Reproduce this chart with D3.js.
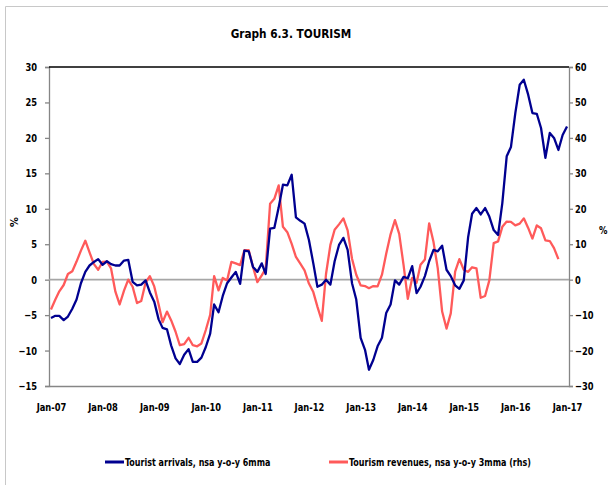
<!DOCTYPE html>
<html>
<head>
<meta charset="utf-8">
<script src="https://cdn.jsdelivr.net/npm/d3@7"></script>
<style>
  body { margin: 0; background: #fff; }
  text { font-family: "Liberation Sans Narrow", "DejaVu Sans Condensed", "Open Sans", sans-serif; font-weight: bold; fill: #000; }
</style>
</head>
<body>
<svg id="chart" width="608" height="485"></svg>
<script>
// monthly y-o-y, Jan-07 .. Jan-17
const arrivals = [
  -5.4, -5.1, -5.1, -5.7, -5.2, -4.1, -2.8, -0.5, 1.1, 2.0, 2.5, 2.9,
  2.1, 2.6, 2.2, 2.0, 2.0, 2.7, 2.8, -0.3, -0.8, -0.7, -0.1, -1.8,
  -3.1, -5.6, -6.8, -7.0, -9.3, -11.1, -11.9, -10.6, -9.8, -11.6, -11.6, -11.0,
  -9.5, -7.6, -3.5, -4.6, -2.3, -0.5, 0.3, 1.1, -0.6, 4.1, 4.0, 1.8,
  1.1, 2.3, 0.8, 7.2, 7.3, 10.2, 13.4, 13.3, 14.8, 8.8, 8.3, 7.9,
  5.6, 2.3, -1.0, -0.7, 0.0, -0.7, 2.6, 4.9, 5.9, 4.2, -0.5, -2.8,
  -8.2, -9.9, -12.7, -11.3, -9.4, -8.2, -4.7, -3.5, -0.1, -0.7, 0.4, 0.2,
  1.9, -1.9, -1.0, 0.5, 2.6, 4.2, 4.0, 4.8, 1.4, 0.5, -0.8, -1.3,
  -0.1, 6.0, 9.3, 10.1, 9.2, 10.1, 8.9, 7.0, 6.3, 10.8, 17.4, 18.7,
  23.5, 27.5, 28.2, 26.1, 23.5, 23.4, 21.4, 17.2, 20.7, 20.0, 18.3, 20.4,
  21.6
];

// Jan-07 .. Nov-16 (rhs)
const revenues = [
  -8.4, -5.6, -3.3, -1.5, 1.6, 2.4, 5.1, 8.2, 11.0, 7.7, 4.4, 2.8,
  5.0, 5.1, 3.2, -3.4, -7.0, -3.1, 0.0, -2.0, -6.6, -6.0, -0.8, 1.0,
  -1.9, -7.0, -12.0, -9.0, -11.5, -14.7, -18.5, -18.2, -16.4, -18.5, -18.8, -18.0,
  -14.2, -9.9, 1.0, -3.0, 0.5, -0.2, 5.0, 4.6, 4.1, 8.3, 8.3, 3.6,
  -0.7, 1.2, 3.1, 21.4, 22.8, 26.6, 14.9, 13.4, 10.1, 6.4, 4.5, 2.6,
  -1.1, -3.5, -7.6, -11.6, 1.6, 9.8, 14.1, 15.6, 17.3, 13.9, 5.9, 1.4,
  -1.6, -1.8, -2.4, -1.8, -1.9, 1.4, 7.3, 12.8, 16.8, 12.9, 4.1, -5.4,
  0.5, -0.9, 4.2, 5.7, 15.9, 10.6, 3.2, -9.0, -13.8, -9.5, 2.3, 5.8,
  2.8, 2.2, 3.5, 3.2, -5.1, -4.6, -0.2, 10.3, 10.8, 14.9, 16.4, 16.3,
  15.3, 15.8, 17.3, 14.6, 11.6, 15.3, 14.5, 11.1, 10.9, 8.9, 5.8
];

const yearTicks = ["Jan-07", "Jan-08", "Jan-09", "Jan-10", "Jan-11", "Jan-12",
  "Jan-13", "Jan-14", "Jan-15", "Jan-16", "Jan-17"];
const leftTicks = [-15, -10, -5, 0, 5, 10, 15, 20, 25, 30];
const rightTicks = [-30, -20, -10, 0, 10, 20, 30, 40, 50, 60];
const seriesNames = ["Tourist arrivals, nsa y-o-y 6mma", "Tourism revenues, nsa y-o-y 3mma (rhs)"];
const seriesColors = ["#000090", "#ff5a5a"];

const width = 608;
const height = 485;
const plot = { left: 49, right: 569, top: 67, bottom: 386 };

const svg = d3.select("#chart");
const parseTick = d3.timeParse("%b-%y");
const start = parseTick(yearTicks[0]);
const end = parseTick(yearTicks[yearTicks.length - 1]);
const monthOf = (d, i) => d3.timeMonth.offset(start, i);

// the original uses a narrow (Calibri-like) face; squeeze the fallback font
const condense = (sel, k) => sel.each(function () {
  const w = this.getComputedTextLength();
  d3.select(this).attr("textLength", w * k).attr("lengthAdjust", "spacingAndGlyphs");
});

const xScale = d3.scaleTime()
  .domain([d3.timeDay.offset(start, -14), d3.timeDay.offset(end, 14)])
  .range([plot.left, plot.right]);
const yLeft = d3.scaleLinear().domain([-15, 30]).range([plot.bottom, plot.top]);
const yRight = d3.scaleLinear().domain([-30, 60]).range([plot.bottom, plot.top]);

// chart area frame (left & top only)
svg.append("path")
  .attr("d", `M5.5,${height} V6.5 H${width}`)
  .attr("fill", "none")
  .attr("stroke", "#c8c8c8");

svg.append("text")
  .attr("x", 291)
  .attr("y", 38)
  .attr("text-anchor", "middle")
  .style("font-size", "13px")
  .text("Graph 6.3. TOURISM")
  .call(condense, 0.9);

// axes
const xAxis = d3.axisBottom(xScale)
  .tickValues(yearTicks.map(parseTick))
  .tickFormat(d3.timeFormat("%b-%y"))
  .tickSize(0)
  .tickPadding(17);
svg.append("g")
  .attr("class", "x-axis")
  .attr("transform", `translate(0,${plot.bottom})`)
  .call(xAxis);

svg.append("g")
  .attr("class", "y-axis")
  .attr("transform", `translate(${plot.left},0)`)
  .call(d3.axisLeft(yLeft).tickValues(leftTicks).tickSize(4).tickPadding(8));

svg.append("g")
  .attr("class", "y-axis")
  .attr("transform", `translate(${plot.right},0)`)
  .call(d3.axisRight(yRight).tickValues(rightTicks).tickSize(4).tickPadding(2));

svg.selectAll(".x-axis .domain, .y-axis .domain, .y-axis .tick line")
  .attr("stroke", "#868686")
  .attr("stroke-width", 1.3);
svg.selectAll(".x-axis text, .y-axis text")
  .style("font-size", "11px")
  .style("font-family", null)
  .call(condense, 0.84);

svg.append("line")
  .attr("x1", plot.left).attr("x2", plot.right)
  .attr("y1", plot.top).attr("y2", plot.top)
  .attr("stroke", "#000")
  .attr("stroke-width", 1.4);

svg.append("line")
  .attr("x1", plot.left).attr("x2", plot.right)
  .attr("y1", yLeft(0)).attr("y2", yLeft(0))
  .attr("stroke", "#a6a6a6")
  .attr("stroke-width", 1.6);

svg.append("text")
  .attr("transform", "translate(18,222) rotate(-90)")
  .attr("text-anchor", "middle")
  .style("font-size", "11px")
  .text("%");

svg.append("text")
  .attr("x", 599)
  .attr("y", 234)
  .style("font-size", "11px")
  .text("%")
  .call(condense, 0.85);

// series
const arrivalsLine = d3.line()
  .x((d, i) => xScale(monthOf(d, i)))
  .y((d) => yLeft(d));
const revenuesLine = d3.line()
  .x((d, i) => xScale(monthOf(d, i)))
  .y((d) => yRight(d));

svg.append("path")
  .datum(revenues)
  .attr("d", revenuesLine)
  .attr("fill", "none")
  .attr("stroke", seriesColors[1])
  .attr("stroke-width", 2.3)
  .attr("stroke-linejoin", "round");

svg.append("path")
  .datum(arrivals)
  .attr("d", arrivalsLine)
  .attr("fill", "none")
  .attr("stroke", seriesColors[0])
  .attr("stroke-width", 2.3)
  .attr("stroke-linejoin", "round");

// legend
const legendX = [105, 329];
const legend = svg.selectAll(".legend")
  .data(seriesNames)
  .join("g")
  .attr("class", "legend")
  .attr("transform", (d, i) => `translate(${legendX[i]},462)`);
legend.append("line")
  .attr("x1", 0).attr("x2", 19)
  .attr("stroke", (d, i) => seriesColors[i])
  .attr("stroke-width", 3);
legend.append("text")
  .attr("x", 20)
  .attr("dy", "0.35em")
  .style("font-size", "11px")
  .text((d) => d)
  .call(condense, 0.81);
</script>
</body>
</html>
